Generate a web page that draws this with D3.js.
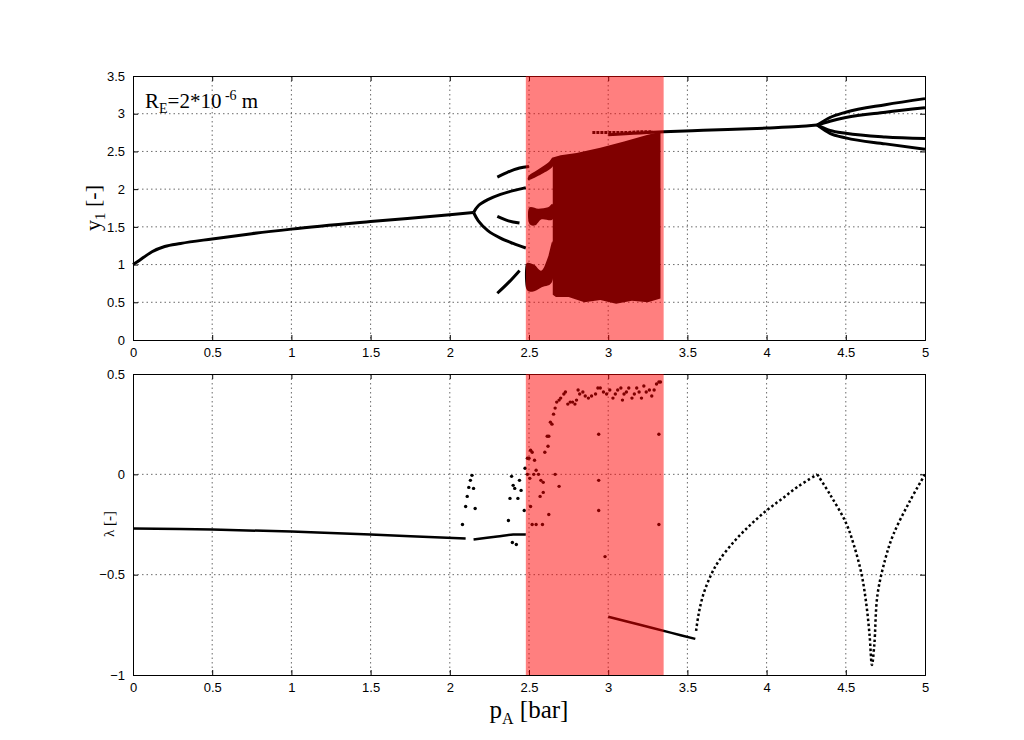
<!DOCTYPE html><html><head><meta charset="utf-8">
<script src="https://cdn.jsdelivr.net/npm/d3@7"></script>
<style>body{margin:0;background:#fff}.tk text{font-family:"Liberation Sans",Arial,sans-serif}</style></head><body>
<svg id="c" width="1024" height="740"></svg>
<script>
// ---------- data ----------
const xTicks=[0,0.5,1,1.5,2,2.5,3,3.5,4,4.5,5];
const yTopTicks=[0,0.5,1,1.5,2,2.5,3,3.5];
const yBotTicks=[-1,-0.5,0,0.5];
const chaosBand=[2.48,3.35];
// top panel branches [p, y1]
const mainBranch=[[0,1.0],[0.03,1.04],[0.07,1.1],[0.12,1.17],[0.2,1.24],[0.3,1.28],[0.5,1.34],[0.75,1.41],[1,1.47],[1.5,1.57],[2,1.66],[2.15,1.69]];
const p2Upper=[[2.15,1.69],[2.18,1.78],[2.24,1.86],[2.32,1.93],[2.4,1.98],[2.48,2.02]];
const p2Lower=[[2.15,1.69],[2.18,1.58],[2.24,1.45],[2.32,1.35],[2.4,1.28],[2.48,1.22]];
const p4a=[[2.3,2.16],[2.36,2.22],[2.44,2.28],[2.5,2.3]];
const p4b=[[2.3,1.64],[2.37,1.58],[2.44,1.55]];
const p4c=[[2.3,0.62],[2.37,0.76],[2.44,0.92]];
const stableLine=[[3.0,2.72],[3.35,2.76],[3.6,2.78],[4.0,2.81],[4.2,2.83],[4.32,2.85]];
const q1=[[4.32,2.85],[4.4,2.95],[4.5,3.02],[4.75,3.12],[5,3.2]];
const q2=[[4.32,2.85],[4.4,2.9],[4.5,2.95],[4.75,3.02],[5,3.08]];
const q3=[[4.32,2.85],[4.4,2.78],[4.5,2.74],[4.75,2.69],[5,2.67]];
const q4=[[4.32,2.85],[4.4,2.74],[4.5,2.68],[4.75,2.6],[5,2.53]];
const dottedRow=[[2.9,2.75],[3.0,2.75],[3.1,2.75],[3.2,2.76],[3.28,2.76]];
// chaotic cloud outline (top edge then bottom edge)
const cloudTop=[[2.65,2.42],[2.7,2.45],[2.8,2.48],[2.95,2.55],[3.1,2.63],[3.25,2.72],[3.33,2.76]];
const cloudBottom=[[3.33,0.55],[3.25,0.5],[3.15,0.52],[3.05,0.48],[2.95,0.53],[2.85,0.5],[2.75,0.57],[2.67,0.57],[2.65,0.6]];
const blobs=[
 [[2.5,2.18],[2.55,2.25],[2.62,2.35],[2.65,2.42],[2.65,2.3],[2.58,2.2],[2.5,2.12]],
 [[2.5,1.75],[2.56,1.74],[2.62,1.76],[2.65,1.8],[2.65,1.6],[2.58,1.6],[2.54,1.52],[2.5,1.55]],
 [[2.48,1.0],[2.53,1.0],[2.58,0.92],[2.62,1.1],[2.65,1.3],[2.65,0.8],[2.58,0.7],[2.52,0.64],[2.48,0.7]]
];
// bottom panel lambda
const lamFlat1=[[0,-0.27],[0.5,-0.275],[1,-0.285],[1.5,-0.3],[2.1,-0.32]];
const lamFlat2=[[2.15,-0.325],[2.3,-0.31],[2.4,-0.3],[2.48,-0.3]];
const lamLow=[[3.0,-0.71],[3.2,-0.75],[3.4,-0.79],[3.55,-0.82]];
const lamRise=[[3.555,-0.78],[3.57,-0.7],[3.6,-0.6],[3.65,-0.5],[3.7,-0.43],[3.8,-0.33],[3.9,-0.25],[4.0,-0.18],[4.1,-0.12],[4.2,-0.06],[4.32,0]];
const lamDip=[[4.32,0],[4.4,-0.1],[4.5,-0.24],[4.55,-0.35],[4.6,-0.5],[4.63,-0.65],[4.65,-0.8],[4.665,-0.95],[4.68,-0.85],[4.7,-0.6],[4.75,-0.42],[4.8,-0.3],[4.9,-0.14],[5.0,0]];
const lamDots=[[2.08,-0.25],[2.1,-0.16],[2.11,-0.11],[2.12,-0.065],[2.13,-0.03],[2.14,-0.005],[2.15,-0.07],[2.16,-0.17],
 [2.37,-0.23],[2.38,-0.12],[2.39,-0.01],[2.4,-0.055],[2.41,-0.07],[2.43,-0.12],[2.44,-0.03],[2.395,-0.34],[2.42,-0.35],[2.45,-0.08],
 [2.47,-0.18],[2.475,0.03],[2.49,0.08],[2.5,0.08],[2.51,0.12],[2.52,0.11],[2.535,0.07],[2.545,0.02],[2.56,0.0],[2.575,-0.03],[2.59,-0.04],[2.6,0.11],[2.615,0.19],[2.625,0.19],[2.635,0.26],[2.645,0.25],[2.655,0.3],[2.665,0.33],[2.675,0.36],[2.69,0.37],[2.7,0.38],[2.72,0.4],[2.73,0.41],[2.745,0.35],[2.76,0.36],[2.775,0.36],[2.79,0.35],[2.8,0.37],[2.81,0.42],[2.82,0.4],[2.84,0.41],[2.855,0.39],[2.875,0.38],[2.895,0.39],[2.92,0.4],[2.935,0.43],[2.95,0.43],[2.97,0.41],[2.99,0.4],[3.01,0.42],[3.03,0.38],[3.045,0.4],[3.06,0.42],[3.08,0.43],[3.09,0.37],[3.1,0.4],[3.115,0.41],[3.13,0.43],[3.15,0.38],[3.165,0.4],[3.18,0.43],[3.195,0.41],[3.21,0.38],[3.225,0.44],[3.24,0.41],[3.26,0.42],[3.275,0.39],[3.29,0.42],[3.305,0.45],[3.32,0.46],[3.33,0.46],
 [2.51,-0.16],[2.52,-0.25],[2.545,-0.25],[2.585,-0.25],[2.57,-0.11],[2.59,-0.09],[2.625,-0.2],[2.665,0.0],[2.69,-0.06],[2.62,0.14],
 [2.94,0.2],[2.94,-0.03],[2.94,-0.18],[2.98,-0.41],[3.32,0.2],[3.32,-0.25],[2.49,0.0],[2.505,-0.02],[2.53,0.0]];

// ---------- layout ----------
const svg=d3.select("#c");
const L=133,R=925;
const x=d3.scaleLinear().domain([0,5]).range([L,R]);
const yT=d3.scaleLinear().domain([0,3.5]).range([340,76]);
const yB=d3.scaleLinear().domain([-1,0.5]).range([675,374]);

function panel(y,ticks,top,bot,fmt){
  const g=svg.append("g").attr("class","tk");
  g.selectAll(".vg").data(xTicks.slice(1,-1)).join("line").attr("x1",d=>x(d)).attr("x2",d=>x(d)).attr("y1",top).attr("y2",bot)
   .attr("stroke","#444").attr("stroke-width",0.8).attr("stroke-dasharray","1.5,3");
  g.selectAll(".hg").data(ticks.slice(1,-1)).join("line").attr("y1",d=>y(d)).attr("y2",d=>y(d)).attr("x1",L).attr("x2",R)
   .attr("stroke","#444").attr("stroke-width",0.8).attr("stroke-dasharray","1.5,3");
  const ax=g.append("g").attr("transform",`translate(0,${bot})`).call(d3.axisBottom(x).tickValues(xTicks).tickSize(-5).tickPadding(8).tickFormat(d3.format("")));
  const ax2=g.append("g").attr("transform",`translate(0,${top})`).call(d3.axisTop(x).tickValues(xTicks).tickSize(-5).tickFormat(""));
  const ay=g.append("g").attr("transform",`translate(${L},0)`).call(d3.axisLeft(y).tickValues(ticks).tickSize(-5).tickPadding(8).tickFormat(fmt));
  const ay2=g.append("g").attr("transform",`translate(${R},0)`).call(d3.axisRight(y).tickValues(ticks).tickSize(-5).tickFormat(""));
  [ax,ax2,ay,ay2].forEach(a=>{a.select(".domain").attr("stroke","#000");a.selectAll("text").attr("font-size",13).attr("fill","#000");});
  return g;
}
panel(yT,yTopTicks,76,340,d3.format(""));
panel(yB,yBotTicks,374,675,d3.format(""));

const lineT=d3.line().x(d=>x(d[0])).y(d=>yT(d[1])).curve(d3.curveMonotoneX);
const lineTc=d3.line().x(d=>x(d[0])).y(d=>yT(d[1])).curve(d3.curveCatmullRom);
const lineB=d3.line().x(d=>x(d[0])).y(d=>yB(d[1])).curve(d3.curveCatmullRom);

const gm=svg.append("g");
[mainBranch,stableLine,q1,q2,q3,q4,p4a,p4b,p4c].forEach(a=>gm.append("path").attr("d",lineT(a)).attr("fill","none").attr("stroke","#000").attr("stroke-width",3));
[p2Upper,p2Lower].forEach(a=>gm.append("path").attr("d",lineTc(a)).attr("fill","none").attr("stroke","#000").attr("stroke-width",3));
gm.append("path").attr("d",lineT(dottedRow)).attr("fill","none").attr("stroke","#000").attr("stroke-width",3).attr("stroke-dasharray","3,1");
const areaPts=cloudTop.concat(cloudBottom);
gm.append("path").attr("d",d3.line().x(d=>x(d[0])).y(d=>yT(d[1])).curve(d3.curveLinearClosed)(areaPts)).attr("fill","#000");
blobs.forEach(b=>gm.append("path").attr("d",d3.line().x(d=>x(d[0])).y(d=>yT(d[1])).curve(d3.curveCardinalClosed)(b)).attr("fill","#000"));

[lamFlat1,lamFlat2,lamLow].forEach(a=>gm.append("path").attr("d",lineB(a)).attr("fill","none").attr("stroke","#000").attr("stroke-width",2.5));
[lamRise,lamDip].forEach(a=>gm.append("path").attr("d",lineB(a)).attr("fill","none").attr("stroke","#000").attr("stroke-width",2.5).attr("stroke-dasharray","2.5,2.5"));
gm.selectAll(".ld").data(lamDots).join("circle").attr("cx",d=>x(d[0])).attr("cy",d=>yB(d[1])).attr("r",1.7).attr("fill","#000");

// red band overlay
[[76,340],[374,675]].forEach(([t,b])=>svg.append("rect").attr("x",x(chaosBand[0])).attr("width",x(chaosBand[1])-x(chaosBand[0]))
  .attr("y",t).attr("height",b-t).attr("fill","rgba(255,0,0,0.5)"));

// labels
const serif='"Liberation Serif","DejaVu Serif",serif';
const t1=svg.append("text").attr("x",145).attr("y",108).attr("font-size",21).style("font-family",serif);
t1.append("tspan").text("R");t1.append("tspan").attr("font-size",14).attr("dy",5).text("E");
t1.append("tspan").attr("dy",-5).text("=2*10");t1.append("tspan").attr("font-size",14).attr("dy",-8).text(" -6");
t1.append("tspan").attr("dy",8).text(" m");
const yl=svg.append("text").attr("transform","translate(100,208) rotate(-90)").attr("text-anchor","middle").attr("font-size",22).style("font-family",serif);
yl.append("tspan").text("y");yl.append("tspan").attr("font-size",15).attr("dy",5).text("1");yl.append("tspan").attr("dy",-5).text(" [-]");
svg.append("text").attr("transform","translate(114,524) rotate(-90)").attr("text-anchor","middle").attr("font-size",15).style("font-family",serif).text("λ [-]");
const xl=svg.append("text").attr("x",529).attr("y",718).attr("text-anchor","middle").attr("font-size",25).style("font-family",serif);
xl.append("tspan").text("p");xl.append("tspan").attr("font-size",16).attr("dy",6).text("A");xl.append("tspan").attr("dy",-6).text(" [bar]");
</script></body></html>
